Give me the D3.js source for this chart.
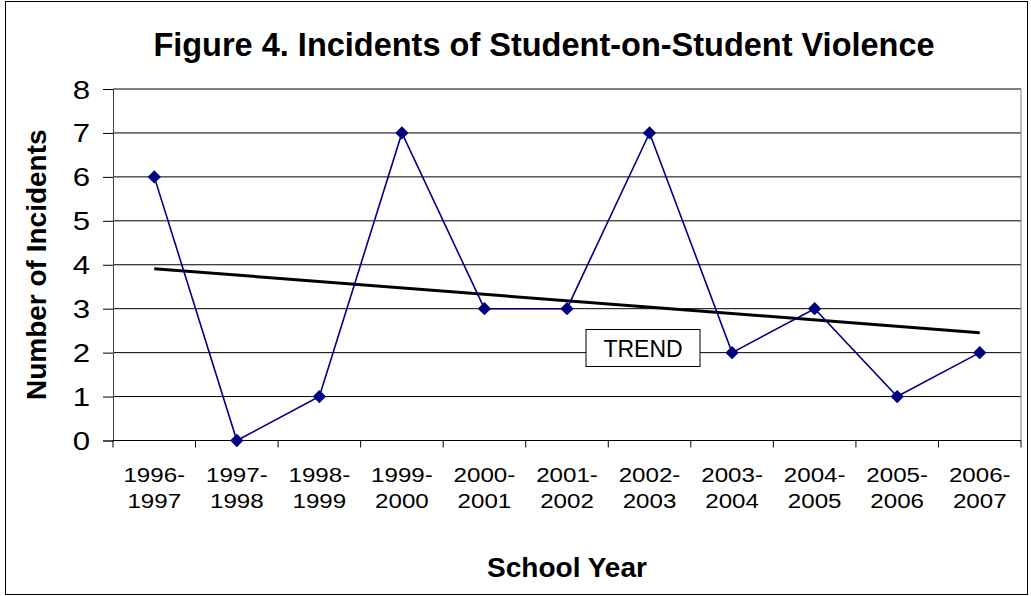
<!DOCTYPE html>
<html>
<head>
<meta charset="utf-8">
<script src="https://cdn.jsdelivr.net/npm/d3@7"></script>
<style>
  body { margin: 0; background: #fff; }
  text { font-family: Arial, "Liberation Sans", sans-serif; fill: #000; }
</style>
</head>
<body>
<div class="viz"></div>
<script>
var years = ['1996-1997', '1997-1998', '1998-1999', '1999-2000', '2000-2001', '2001-2002',
    '2002-2003', '2003-2004', '2004-2005', '2005-2006', '2006-2007'];
var incidents = [6, 0, 1, 7, 3, 3, 7, 2, 3, 1, 2];
var yTicks = [0, 1, 2, 3, 4, 5, 6, 7, 8];

var width = 1031, height = 596;
var plot = {left: 113, right: 1021, top: 89, bottom: 440.5};

var svg = d3.select('.viz').append('svg')
    .attr('width', width)
    .attr('height', height);

// outer chart border
svg.append('rect')
    .attr('x', 5.5).attr('y', 1.5)
    .attr('width', 1022).attr('height', 593)
    .attr('fill', '#fff')
    .attr('stroke', '#000');

var x = d3.scaleBand()
    .domain(years)
    .range([plot.left, plot.right]);

var y = d3.scaleLinear()
    .domain([0, 8])
    .range([plot.bottom, plot.top]);

// gridlines
svg.append('g').selectAll('line')
    .data(yTicks.filter(function (d) { return d > 0; }))
    .enter().append('line')
    .attr('x1', plot.left).attr('x2', plot.right)
    .attr('y1', function (d) { return y(d); })
    .attr('y2', function (d) { return y(d); })
    .attr('stroke', '#000')
    .attr('stroke-width', 1);

// right border of plot area
svg.append('line')
    .attr('x1', plot.right).attr('x2', plot.right)
    .attr('y1', plot.top).attr('y2', plot.bottom)
    .attr('stroke', '#808080');

// y axis
var yAxis = svg.append('g')
    .attr('transform', 'translate(' + plot.left + ',0)')
    .call(d3.axisLeft(y).tickValues(yTicks).tickSize(10).tickPadding(0).tickFormat(d3.format('d')));
yAxis.select('.domain').attr('stroke', '#404040');
yAxis.selectAll('.tick line').attr('stroke', '#000');
yAxis.selectAll('.tick text')
    .attr('x', 0)
    .attr('dy', null)
    .attr('font-size', 26)
    .attr('text-anchor', 'end')
    .attr('transform', function () { return 'translate(-23,9) scale(1.2,1)'; });

// x axis (ticks between categories)
svg.append('line')
    .attr('x1', plot.left).attr('x2', plot.right)
    .attr('y1', plot.bottom).attr('y2', plot.bottom)
    .attr('stroke', '#000');
svg.append('g').selectAll('line')
    .data(years.concat(['end']))
    .enter().append('line')
    .attr('x1', function (d, i) { return plot.left + i * x.bandwidth(); })
    .attr('x2', function (d, i) { return plot.left + i * x.bandwidth(); })
    .attr('y1', plot.bottom)
    .attr('y2', plot.bottom + 7)
    .attr('stroke', '#000');

var xLabels = svg.append('g').selectAll('text')
    .data(years)
    .enter().append('text')
    .attr('text-anchor', 'middle')
    .attr('font-size', 21)
    .attr('transform', function (d) {
        return 'translate(' + (x(d) + x.bandwidth() / 2) + ',0) scale(1.15,1)';
    });
xLabels.append('tspan')
    .attr('x', 0).attr('y', 482)
    .text(function (d) { return d.split('-')[0] + '-'; });
xLabels.append('tspan')
    .attr('x', 0).attr('y', 508)
    .text(function (d) { return d.split('-')[1]; });

// trend line (least squares over the series)
var n = incidents.length;
var meanX = (n - 1) / 2;
var meanY = d3.mean(incidents);
var sxy = d3.sum(incidents, function (d, i) { return (i - meanX) * (d - meanY); });
var sxx = d3.sum(incidents, function (d, i) { return (i - meanX) * (i - meanX); });
var slope = sxy / sxx;
var intercept = meanY - slope * meanX;

var cx = function (d) { return x(d) + x.bandwidth() / 2; };

svg.append('line')
    .attr('x1', cx(years[0]))
    .attr('y1', y(intercept))
    .attr('x2', cx(years[n - 1]))
    .attr('y2', y(intercept + slope * (n - 1)))
    .attr('stroke', '#000')
    .attr('stroke-width', 3);

// data series
var line = d3.line()
    .x(function (d, i) { return cx(years[i]); })
    .y(function (d) { return y(d); });

svg.append('path')
    .datum(incidents)
    .attr('d', line)
    .attr('fill', 'none')
    .attr('stroke', '#000080')
    .attr('stroke-width', 1.6);

svg.append('g').selectAll('path')
    .data(incidents)
    .enter().append('path')
    .attr('d', d3.symbol().type(d3.symbolDiamond2).size(80))
    .attr('transform', function (d, i) { return 'translate(' + cx(years[i]) + ',' + y(d) + ')'; })
    .attr('fill', '#000080')
    .attr('stroke', '#000080')
    .attr('stroke-width', 1.5);

// TREND label box
svg.append('rect')
    .attr('x', 586).attr('y', 329.5)
    .attr('width', 114).attr('height', 37)
    .attr('fill', '#fff')
    .attr('stroke', '#000');
svg.append('text')
    .attr('x', 643).attr('y', 357)
    .attr('text-anchor', 'middle')
    .attr('font-size', 23)
    .text('TREND');

// titles
svg.append('text')
    .attr('x', 544).attr('y', 56)
    .attr('text-anchor', 'middle')
    .attr('font-size', 32.5)
    .attr('font-weight', 'bold')
    .text('Figure 4. Incidents of Student-on-Student Violence');

svg.append('text')
    .attr('x', (plot.left + plot.right) / 2).attr('y', 577)
    .attr('text-anchor', 'middle')
    .attr('font-size', 28)
    .attr('font-weight', 'bold')
    .text('School Year');

svg.append('text')
    .attr('transform', 'translate(46,' + ((plot.top + plot.bottom) / 2) + ') rotate(-90)')
    .attr('text-anchor', 'middle')
    .attr('font-size', 28)
    .attr('font-weight', 'bold')
    .text('Number of Incidents');
</script>
</body>
</html>
